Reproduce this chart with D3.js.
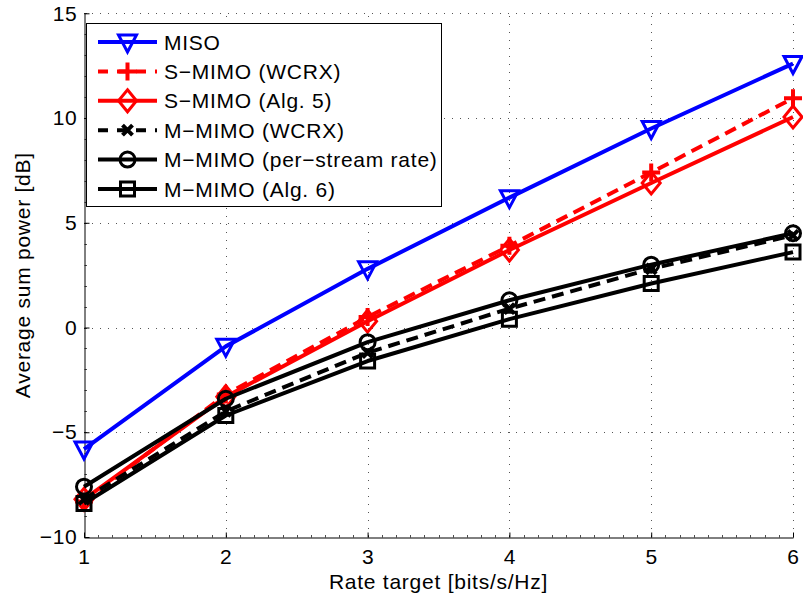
<!DOCTYPE html>
<html>
<head>
<meta charset="utf-8">
<script src="https://cdn.jsdelivr.net/npm/d3@7"></script>
<style>
  body { margin: 0; background: #fff; }
  text { font-family: "Liberation Sans", Arial, sans-serif; font-size: 21px; letter-spacing: 0.75px; fill: #000; }
</style>
</head>
<body>
<svg id="chart" width="803" height="600"></svg>
<script>
var rates = [1, 2, 3, 4, 5, 6];
var miso = [-5.8, -0.9, 2.8, 6.2, 9.5, 12.6];
var smimoWcrx = [-8.3, -3.2, 0.5, 3.9, 7.4, 10.95];
var smimoAlg5 = [-8.2, -3.3, 0.3, 3.7, 6.9, 10.05];
var mmimoWcrx = [-8.2, -4.0, -1.2, 0.9, 2.8, 4.4];
var mmimoStream = [-7.6, -3.4, -0.7, 1.3, 3.0, 4.5];
var mmimoAlg6 = [-8.4, -4.2, -1.6, 0.4, 2.1, 3.6];
var xTicks = [1, 2, 3, 4, 5, 6];
var yTicks = [-10, -5, 0, 5, 10, 15];

var series = [
  {name: "MISO", values: miso, color: "#0000ff", dash: null, marker: "tri"},
  {name: "S\u2212MIMO (WCRX)", values: smimoWcrx, color: "#ff0000", dash: "12,7", marker: "plus"},
  {name: "S\u2212MIMO (Alg. 5)", values: smimoAlg5, color: "#ff0000", dash: null, marker: "diamond"},
  {name: "M\u2212MIMO (WCRX)", values: mmimoWcrx, color: "#000000", dash: "12,7", marker: "cross"},
  {name: "M\u2212MIMO (per\u2212stream rate)", values: mmimoStream, color: "#000000", dash: null, marker: "circle"},
  {name: "M\u2212MIMO (Alg. 6)", values: mmimoAlg6, color: "#000000", dash: null, marker: "square"}
];

var svg = d3.select("#chart");
var x = d3.scaleLinear().domain([1, 6]).range([84, 793]);
var y = d3.scaleLinear().domain([-10, 15]).range([537, 13.3]);

// grid
var grid = svg.append("g").attr("stroke", "#555").attr("stroke-width", 1).attr("stroke-dasharray", "1,7");
grid.selectAll(".gx").data(xTicks.slice(1)).enter().append("line")
  .attr("x1", function(d) { return Math.round(x(d)) + 0.5; })
  .attr("x2", function(d) { return Math.round(x(d)) + 0.5; })
  .attr("y1", y(-10)).attr("y2", y(15));
grid.selectAll(".gy").data(yTicks.slice(1)).enter().append("line")
  .attr("y1", function(d) { return Math.round(y(d)) + 0.5; })
  .attr("y2", function(d) { return Math.round(y(d)) + 0.5; })
  .attr("x1", x(1)).attr("x2", x(6));

// axes
var xAxis = svg.append("g").attr("transform", "translate(0," + (Math.round(y(-10)) + 0.5) + ")")
  .call(d3.axisBottom(x).tickValues(xTicks).tickFormat(d3.format("d")).tickSizeInner(-5).tickSizeOuter(0).tickPadding(12));
var yAxis = svg.append("g").attr("transform", "translate(" + (Math.round(x(1)) + 0.5) + ",0)")
  .call(d3.axisLeft(y).tickValues(yTicks).tickFormat(function(d) { return d < 0 ? "\u2212" + Math.abs(d) : d; })
    .tickSizeInner(-5).tickSizeOuter(0).tickPadding(7));
[xAxis, yAxis].forEach(function(a) {
  a.select(".domain").attr("stroke", "#000");
  a.selectAll("line").attr("stroke", "#000");
  a.attr("font-size", null).attr("font-family", null);
});

// minor ticks
svg.append("g").selectAll("line").data(d3.range(1, 6.01, 0.1)).enter().append("line")
  .attr("x1", function(d) { return Math.round(x(d)) + 0.5; })
  .attr("x2", function(d) { return Math.round(x(d)) + 0.5; })
  .attr("y1", Math.round(y(-10)) + 0.5).attr("y2", Math.round(y(-10)) - 2)
  .attr("stroke", "#000").attr("stroke-width", 0.7);
svg.append("g").selectAll("line").data(d3.range(-10, 15.01, 1)).enter().append("line")
  .attr("y1", function(d) { return Math.round(y(d)) + 0.5; })
  .attr("y2", function(d) { return Math.round(y(d)) + 0.5; })
  .attr("x1", Math.round(x(1)) + 0.5).attr("x2", Math.round(x(1)) + 3)
  .attr("stroke", "#000").attr("stroke-width", 0.7);

// axis labels
svg.append("text").attr("x", (x(1) + x(6)) / 2).attr("y", 589).attr("text-anchor", "middle")
  .text("Rate target [bits/s/Hz]");
svg.append("text").attr("transform", "translate(30," + (y(2.5)) + ") rotate(-90)")
  .attr("text-anchor", "middle").text("Average sum power [dB]");

function drawMarker(g, type, color) {
  var p = g.append("path").attr("fill", "none").attr("stroke", color).attr("stroke-linejoin", "miter");
  if (type === "tri") p.attr("d", "M-9,-7L9,-7L0,10Z").attr("stroke-width", 3);
  if (type === "plus") p.attr("d", "M-9,0H9M0,-9V9").attr("stroke-width", 4);
  if (type === "diamond") p.attr("d", "M0,-11L9,0L0,11L-9,0Z").attr("stroke-width", 3);
  if (type === "cross") p.attr("d", "M-5,-5L5,5M-5,5L5,-5").attr("stroke-width", 4);
  if (type === "circle") p.attr("d", d3.arc()({innerRadius: 0, outerRadius: 7.5, startAngle: 0, endAngle: 2 * Math.PI})).attr("stroke-width", 3);
  if (type === "square") p.attr("d", "M-7,-7H7V7H-7Z").attr("stroke-width", 3);
}

var line = d3.line().x(function(d, i) { return x(rates[i]); }).y(function(d) { return y(d); });

series.forEach(function(s) {
  var g = svg.append("g");
  g.append("path").attr("d", line(s.values)).attr("fill", "none").attr("stroke", s.color)
    .attr("stroke-width", 4).attr("stroke-dasharray", s.dash).attr("stroke-linejoin", "round");
  s.values.forEach(function(v, i) {
    var m = g.append("g").attr("transform", "translate(" + x(rates[i]) + "," + y(v) + ")");
    drawMarker(m, s.marker, s.color);
  });
});

// legend
var legend = svg.append("g");
legend.append("rect").attr("x", 86.5).attr("y", 23.5).attr("width", 355).attr("height", 183)
  .attr("fill", "#fff").attr("stroke", "#000").attr("stroke-width", 1);
series.forEach(function(s, i) {
  var cy = 42 + i * 29.4;
  legend.append("line").attr("x1", 98).attr("x2", 157).attr("y1", cy).attr("y2", cy)
    .attr("stroke", s.color).attr("stroke-width", 4).attr("stroke-dasharray", s.dash ? "10,9" : null);
  drawMarker(legend.append("g").attr("transform", "translate(127.5," + cy + ")"), s.marker, s.color);
  legend.append("text").attr("x", 164).attr("y", cy).attr("dy", "0.36em").text(s.name);
});
</script>
</body>
</html>
